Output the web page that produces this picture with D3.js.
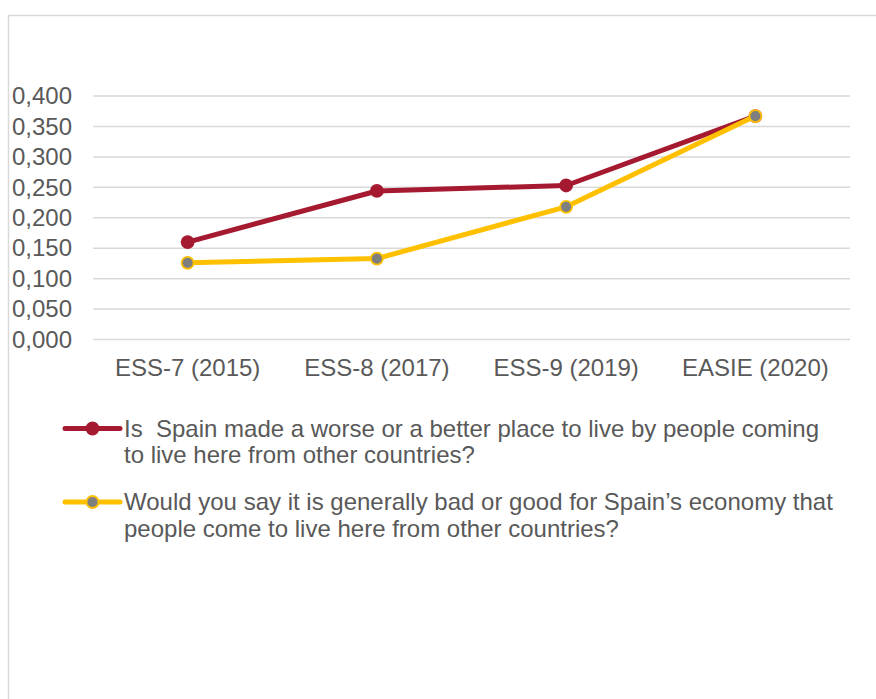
<!DOCTYPE html>
<html>
<head>
<meta charset="utf-8">
<script src="https://cdn.jsdelivr.net/npm/d3@7"></script>
<style>
  body { margin: 0; background: #fff; }
  svg text { font-family: "Liberation Sans", Arial, sans-serif; fill: #595959; }
</style>
</head>
<body>
<div id="chart"></div>
<script>
// data
var waves = ["ESS-7 (2015)", "ESS-8 (2017)", "ESS-9 (2019)", "EASIE (2020)"];
var betterPlace = [0.160, 0.244, 0.253, 0.367];
var economyGood = [0.126, 0.133, 0.218, 0.367];
var yTicks = [0, 0.05, 0.1, 0.15, 0.2, 0.25, 0.3, 0.35, 0.4];
var legendLabels = [
  ["Is  Spain made a worse or a better place to live by people coming", "to live here from other countries?"],
  ["Would you say it is generally bad or good for Spain\u2019s economy that", "people come to live here from other countries?"]
];

var width = 876, height = 699;
var svg = d3.select("#chart").append("svg")
    .attr("width", width)
    .attr("height", height);

// outer frame
svg.append("rect")
    .attr("x", 8.5).attr("y", 15.5)
    .attr("width", 900).attr("height", 720)
    .attr("fill", "none")
    .attr("stroke", "#d9d9d9")
    .attr("stroke-width", 1.5);

var x = d3.scaleBand().domain(waves).range([93, 850]);
var y = d3.scaleLinear().domain([0, 0.4]).range([339.5, 96]);
var fmt = function (v) { return d3.format(".3f")(v).replace(".", ","); };

// gridlines
svg.append("g").selectAll("line")
    .data(yTicks)
    .join("line")
    .attr("x1", 93).attr("x2", 850)
    .attr("y1", function (d) { return y(d); })
    .attr("y2", function (d) { return y(d); })
    .attr("stroke", "#d9d9d9")
    .attr("stroke-width", 1.5);

// y axis labels
var yAxis = svg.append("g")
    .attr("transform", "translate(72,0)")
    .call(d3.axisLeft(y).tickValues(yTicks).tickFormat(fmt).tickSize(0).tickPadding(0));
yAxis.select(".domain").remove();
yAxis.selectAll("text")
    .attr("font-size", 24)
    .attr("font-family", "Liberation Sans, Arial, sans-serif")
    .attr("fill", "#595959");

// x axis labels
var xAxis = svg.append("g")
    .attr("transform", "translate(0,351)")
    .call(d3.axisBottom(x).tickSize(0).tickPadding(0));
xAxis.select(".domain").remove();
xAxis.selectAll("text")
    .attr("font-size", 24)
    .attr("dy", "1.05em")
    .attr("font-family", "Liberation Sans, Arial, sans-serif")
    .attr("fill", "#595959");

var cx = function (i) { return x(waves[i]) + x.bandwidth() / 2; };
var line = d3.line()
    .x(function (d, i) { return cx(i); })
    .y(function (d) { return y(d); });

var series = [
  { values: betterPlace, color: "#A51A30", fill: "#A51A30", stroke: "#A51A30" },
  { values: economyGood, color: "#FFC000", fill: "#7F7F7F", stroke: "#FFC000" }
];

series.forEach(function (s) {
  svg.append("path")
      .datum(s.values)
      .attr("fill", "none")
      .attr("stroke", s.color)
      .attr("stroke-width", 5)
      .attr("stroke-linejoin", "round")
      .attr("d", line);
  svg.append("g").selectAll("circle")
      .data(s.values)
      .join("circle")
      .attr("cx", function (d, i) { return cx(i); })
      .attr("cy", function (d) { return y(d); })
      .attr("r", 6)
      .attr("fill", s.fill)
      .attr("stroke", s.stroke)
      .attr("stroke-width", 1.8);
});

// legend
var legendY = [428.5, 502];
series.forEach(function (s, k) {
  var g = svg.append("g").attr("transform", "translate(0," + legendY[k] + ")");
  g.append("line")
      .attr("x1", 65).attr("x2", 120)
      .attr("stroke", s.color)
      .attr("stroke-width", 5)
      .attr("stroke-linecap", "round");
  g.append("circle")
      .attr("cx", 92.5).attr("r", 6)
      .attr("fill", s.fill)
      .attr("stroke", s.stroke)
      .attr("stroke-width", 1.8);
  var t = g.append("text")
      .attr("x", 124)
      .attr("y", 8)
      .attr("font-size", 24)
      .attr("xml:space", "preserve")
      .style("white-space", "pre");
  legendLabels[k].forEach(function (l, j) {
    t.append("tspan")
        .attr("x", 124)
        .attr("dy", j === 0 ? 0 : 26.5)
        .text(l);
  });
});
</script>
</body>
</html>
